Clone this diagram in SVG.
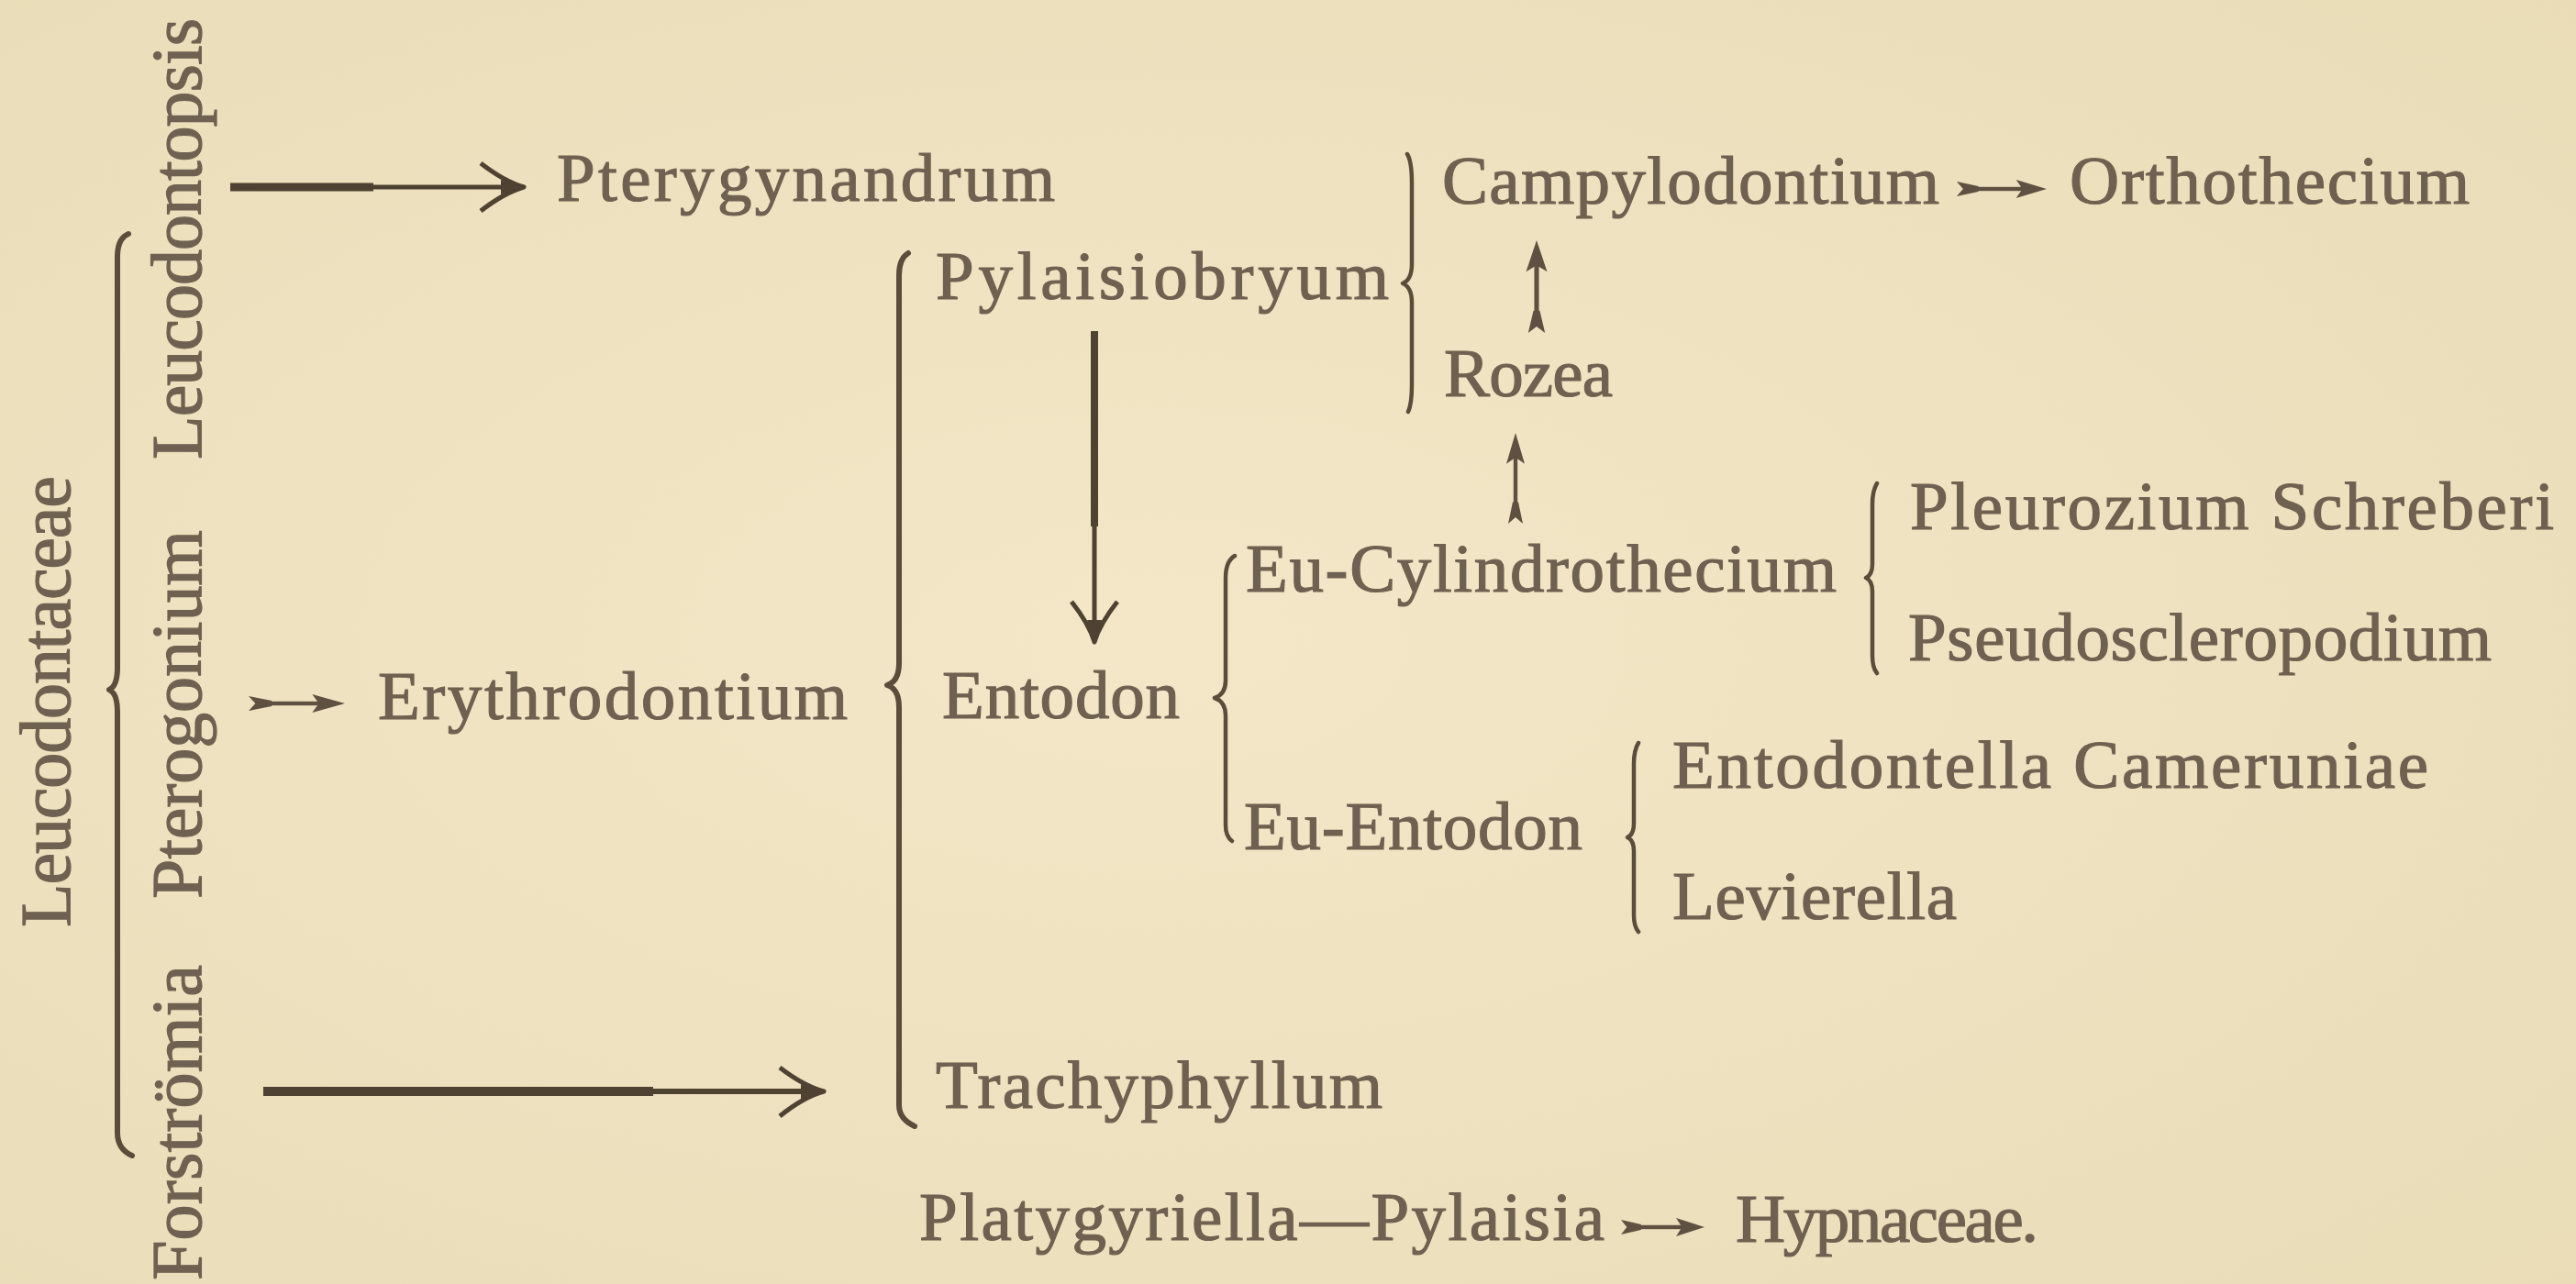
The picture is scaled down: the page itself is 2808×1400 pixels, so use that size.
<svg xmlns="http://www.w3.org/2000/svg" width="2808" height="1400" viewBox="0 0 2808 1400">
<defs>
<radialGradient id="bg" cx="0.45" cy="0.5" r="0.75">
<stop offset="0" stop-color="#F3E7C8"/>
<stop offset="1" stop-color="#E9DCB7"/>
</radialGradient>
<g id="dart">
<path d="M0 -8 L24 -3 L24 3 L0 8 L7 0 Z"/>
<rect x="22" y="-2.2" width="52" height="4.4"/>
<path d="M100 0 L66 -10 L73 0 L66 10 Z"/>
</g>
</defs>
<style>
text { font-family: "Liberation Serif", "Times New Roman", serif; fill: #6F6151; stroke: #6F6151; stroke-width: 1.2px; }
.h { font-size: 75px; }
.v { font-size: 78px; }
.ln { fill: none; stroke: #4E4232; stroke-linecap: butt; stroke-linejoin: round; }
.hd { fill: #4E4232; }
.brace { fill: none; stroke: #5A4D3C; stroke-width: 6; stroke-linecap: round; stroke-linejoin: round; }
.sbrace { stroke-width: 4.5; }
.dart { fill: #5E5142; }
</style>
<rect x="0" y="0" width="2808" height="1400" fill="url(#bg)"/>

<g id="connectors">
  <g id="braces">
    <path class="brace" d="M140 255 Q128 260 128 280 L128 728 Q128 748 119 752 Q128 756 128 776 L128 1235 Q128 1253 144 1260"/>
    <path class="brace" d="M990 276 Q980 282 980 300 L980 723 Q980 743 967 747 Q980 751 980 771 L980 1205 Q980 1220 997 1228"/>
    <path class="brace sbrace" d="M1534 168 Q1539 176 1539 200 L1539 288 Q1539 305 1529 309 Q1539 313 1539 330 L1539 420 Q1539 440 1535 449"/>
    <path class="brace sbrace" d="M1346 606 Q1336 612 1336 630 L1336 742 Q1336 757 1324 761 Q1336 765 1336 780 L1336 900 Q1336 912 1343 917"/>
    <path class="brace sbrace" d="M2046 527 Q2041 535 2041 550 L2041 615 Q2041 627 2034 630 Q2041 633 2041 645 L2041 715 Q2041 728 2046 734"/>
    <path class="brace sbrace" d="M1786 810 Q1781 818 1781 833 L1781 898 Q1781 910 1774 913 Q1781 916 1781 928 L1781 998 Q1781 1010 1786 1016"/>
  </g>
  <g id="arrow-leucodontopsis-pterygynandrum">
    <path class="ln" stroke-width="9" d="M251 204 H407"/>
    <path class="ln" stroke-width="5" d="M407 204 H560"/>
    <path class="ln" stroke-width="5" d="M524 178 Q550 198 571 204 Q550 210 524 230"/>
    <path class="hd" d="M572 204 L546 196 L546 212 Z"/>
  </g>
  <g id="arrow-forstroemia-trachyphyllum">
    <path class="ln" stroke-width="10" d="M287 1190 H712"/>
    <path class="ln" stroke-width="6" d="M712 1190 H885"/>
    <path class="ln" stroke-width="5" d="M850 1164 Q876 1184 898 1190 Q876 1196 850 1217"/>
    <path class="hd" d="M899 1190 L873 1182 L873 1198 Z"/>
  </g>
  <g id="arrow-pylaisiobryum-entodon">
    <path class="ln" stroke-width="8" d="M1193 361 V574"/>
    <path class="ln" stroke-width="5" d="M1193 574 V690"/>
    <path class="ln" stroke-width="5" d="M1168 656 Q1187 680 1193 700 Q1199 680 1218 656"/>
    <path class="hd" d="M1193 701 L1185 676 L1201 676 Z"/>
  </g>
  <use class="dart" href="#dart" transform="translate(271,767) scale(1.05,1)"/>
  <use class="dart" href="#dart" transform="translate(2133,206) scale(0.98,1)"/>
  <use class="dart" href="#dart" transform="translate(1767,1338) scale(0.91,1)"/>
  <use class="dart" href="#dart" transform="translate(1675,363) rotate(-90) scale(1.01,1.15)"/>
  <use class="dart" href="#dart" transform="translate(1652,571) rotate(-90) scale(0.99,1)"/>
</g>

<g id="leucodontaceae"><text class="v" transform="translate(76,1011) rotate(-90)" textLength="492" lengthAdjust="spacing">Leucodontaceae</text></g>
<g id="leucodontopsis"><text class="v" transform="translate(219,501) rotate(-90)" textLength="481" lengthAdjust="spacing">Leucodontopsis</text></g>
<g id="pterogonium"><text class="v" transform="translate(219,980) rotate(-90)" textLength="402" lengthAdjust="spacing">Pterogonium</text></g>
<g id="forstroemia"><text class="v" transform="translate(219,1396) rotate(-90)" textLength="344" lengthAdjust="spacing">Forströmia</text></g>

<g id="pterygynandrum"><text class="h" x="607" y="219" textLength="543" lengthAdjust="spacing">Pterygynandrum</text></g>
<g id="campylodontium"><text class="h" x="1572" y="222" textLength="542" lengthAdjust="spacing">Campylodontium</text></g>
<g id="orthothecium"><text class="h" x="2256" y="222" textLength="436" lengthAdjust="spacing">Orthothecium</text></g>
<g id="pylaisiobryum"><text class="h" x="1020" y="326" textLength="494" lengthAdjust="spacing">Pylaisiobryum</text></g>
<g id="rozea"><text class="h" x="1574" y="432" textLength="184" lengthAdjust="spacing">Rozea</text></g>
<g id="eu-cylindrothecium"><text class="h" x="1358" y="645" textLength="644" lengthAdjust="spacing">Eu-Cylindrothecium</text></g>
<g id="pleurozium"><text class="h" x="2082" y="577" textLength="702" lengthAdjust="spacing">Pleurozium Schreberi</text></g>
<g id="pseudoscleropodium"><text class="h" x="2080" y="720" textLength="636" lengthAdjust="spacing">Pseudoscleropodium</text></g>
<g id="erythrodontium"><text class="h" x="412" y="784" textLength="512" lengthAdjust="spacing">Erythrodontium</text></g>
<g id="entodon"><text class="h" x="1027" y="783" textLength="259" lengthAdjust="spacing">Entodon</text></g>
<g id="eu-entodon"><text class="h" x="1356" y="926" textLength="369" lengthAdjust="spacing">Eu-Entodon</text></g>
<g id="entodontella"><text class="h" x="1823" y="859" textLength="824" lengthAdjust="spacing">Entodontella Cameruniae</text></g>
<g id="levierella"><text class="h" x="1823" y="1002" textLength="310" lengthAdjust="spacing">Levierella</text></g>
<g id="trachyphyllum"><text class="h" x="1020" y="1208" textLength="487" lengthAdjust="spacing">Trachyphyllum</text></g>
<g id="platygyriella-pylaisia"><text class="h" x="1002" y="1352" textLength="747" lengthAdjust="spacing">Platygyriella—Pylaisia</text></g>
<g id="hypnaceae"><text class="h" x="1892" y="1354" textLength="330" lengthAdjust="spacing">Hypnaceae.</text></g>
</svg>
